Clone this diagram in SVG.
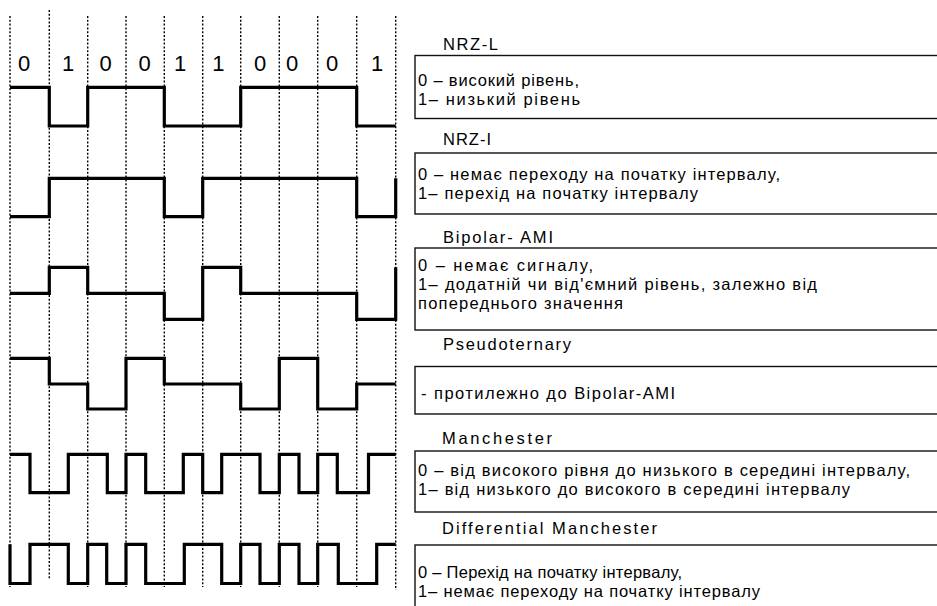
<svg xmlns="http://www.w3.org/2000/svg" width="937" height="606" viewBox="0 0 937 606">
<style>
.grid{stroke:#000;stroke-width:1.4;stroke-dasharray:2 1.8;fill:none}
.wave{stroke:#000;stroke-width:3.2;fill:none;stroke-linejoin:miter;stroke-linecap:butt}
.box{fill:#fff;stroke:#111;stroke-width:1.4}
.t{font-family:"Liberation Sans",Arial,sans-serif;font-size:16.5px;fill:#000}
.bit{font-family:"Liberation Sans",Arial,sans-serif;font-size:22px;fill:#000;text-anchor:middle}
</style>
<rect width="937" height="606" fill="#fff"/>
<g id="grid" class="grid">
<line x1="10" y1="16" x2="10" y2="587"/>
<line x1="49.3" y1="10" x2="49.3" y2="580"/>
<line x1="87.7" y1="16" x2="87.7" y2="587"/>
<line x1="126" y1="16" x2="126" y2="587"/>
<line x1="164.3" y1="16" x2="164.3" y2="587"/>
<line x1="202.7" y1="16" x2="202.7" y2="587"/>
<line x1="240.7" y1="16" x2="240.7" y2="587"/>
<line x1="279.3" y1="16" x2="279.3" y2="587"/>
<line x1="317.7" y1="16" x2="317.7" y2="587"/>
<line x1="356.7" y1="16" x2="356.7" y2="587"/>
<line x1="395.7" y1="16" x2="395.7" y2="590"/>
</g>
<g id="bits" class="bit">
<text x="24" y="71">0</text>
<text x="68" y="71">1</text>
<text x="105.5" y="71">0</text>
<text x="144.7" y="71">0</text>
<text x="180" y="71">1</text>
<text x="218.3" y="71">1</text>
<text x="260" y="71">0</text>
<text x="292" y="71">0</text>
<text x="332" y="71">0</text>
<text x="377" y="71">1</text>
</g>
<g id="connectors"/>
<g id="wave-nrzl"><path class="wave" d="M10,87.3 H49.3 V126 H87.7 V87.3 H164.3 V126 H240.7 V87.3 H356.7 V126 H395.7"/></g>
<g id="wave-nrzi"><path class="wave" d="M10,216.7 H49.3 V178.3 H164.3 V216.7 H202.7 V178.3 H356.7 V216.7 H395.7 V178.3"/></g>
<g id="wave-ami"><path class="wave" d="M10,293.3 H49.3 V267.3 H87.7 V293.3 H164.3 V319.3 H202.7 V267.3 H240.7 V293.3 H356.7 V319.3 H395.7 V267.3"/></g>
<g id="wave-pseudo"><path class="wave" d="M10,358.3 H49.3 V384 H87.7 V409 H126 V358.3 H164.3 V384 H240.7 V409 H279.3 V358.3 H317.7 V409 H356.7 V384 H395.7"/></g>
<g id="wave-manchester"><path class="wave" d="M10,454.3 H30 V492.7 H68.3 V454.3 H107.3 V492.7 H126 V454.3 H145.7 V492.7 H183.3 V454.3 H202.7 V492.7 H221.7 V454.3 H260 V492.7 H279.3 V454.3 H299 V492.7 H317.7 V454.3 H337.3 V492.7 H368.5 V454.3 H395.7"/></g>
<g id="wave-diffmanchester"><path class="wave" d="M10,544.3 V583.5 H30 V544.3 H68.3 V583.5 H87.7 V544.3 H106.7 V583.5 H126 V544.3 H145.7 V583.5 H184.3 V544.3 H221.7 V583.5 H240.7 V544.3 H260 V583.5 H279.3 V544.3 H299 V583.5 H317.7 V544.3 H338.3 V583.5 H376.7 V544.3 H395.7"/></g>
<g id="desc-nrzl">
<text class="t" x="443" y="49.5" textLength="55" lengthAdjust="spacing">NRZ-L</text>
<rect class="box" x="415" y="55.5" width="540" height="63"/>
<text class="t" x="418" y="86" textLength="161" lengthAdjust="spacing">0 – високий рівень,</text>
<text class="t" x="418" y="105" textLength="162" lengthAdjust="spacing">1– низький рівень</text>
</g>
<g id="desc-nrzi">
<text class="t" x="443" y="144.5" textLength="48" lengthAdjust="spacing">NRZ-I</text>
<rect class="box" x="415" y="153" width="540" height="61"/>
<text class="t" x="418" y="179.5" textLength="362" lengthAdjust="spacing">0 – немає переходу на початку інтервалу,</text>
<text class="t" x="418" y="198.5" textLength="280" lengthAdjust="spacing">1– перехід на початку інтервалу</text>
</g>
<g id="desc-ami">
<text class="t" x="443" y="243" textLength="110" lengthAdjust="spacing">Bipolar- AMI</text>
<rect class="box" x="415" y="248" width="540" height="82"/>
<text class="t" x="418" y="271" textLength="175" lengthAdjust="spacing">0 – немає сигналу,</text>
<text class="t" x="418" y="290" textLength="399" lengthAdjust="spacing">1– додатній чи від'ємний рівень, залежно від</text>
<text class="t" x="418" y="308.5" textLength="205" lengthAdjust="spacing">попереднього значення</text>
</g>
<g id="desc-pseudo">
<text class="t" x="443" y="350" textLength="128" lengthAdjust="spacing">Pseudoternary</text>
<rect class="box" x="415" y="366.5" width="540" height="47.5"/>
<text class="t" x="421" y="399" textLength="254" lengthAdjust="spacing">- протилежно до Bipolar-AMI</text>
</g>
<g id="desc-manchester">
<text class="t" x="442" y="443.5" textLength="110" lengthAdjust="spacing">Manchester</text>
<rect class="box" x="415" y="451" width="540" height="61"/>
<text class="t" x="418" y="475.5" textLength="492" lengthAdjust="spacing">0 – від високого рівня до низького в середині інтервалу,</text>
<text class="t" x="418" y="494.5" textLength="432" lengthAdjust="spacing">1– від низького до високого в середині інтервалу</text>
</g>
<g id="desc-diffmanchester">
<text class="t" x="442" y="533.5" textLength="215" lengthAdjust="spacing">Differential Manchester</text>
<rect class="box" x="415" y="545" width="540" height="80"/>
<text class="t" x="418" y="577.5" textLength="264" lengthAdjust="spacing">0 – Перехід на початку інтервалу,</text>
<text class="t" x="418" y="596.5" textLength="342" lengthAdjust="spacing">1– немає переходу на початку інтервалу</text>
</g>
</svg>
